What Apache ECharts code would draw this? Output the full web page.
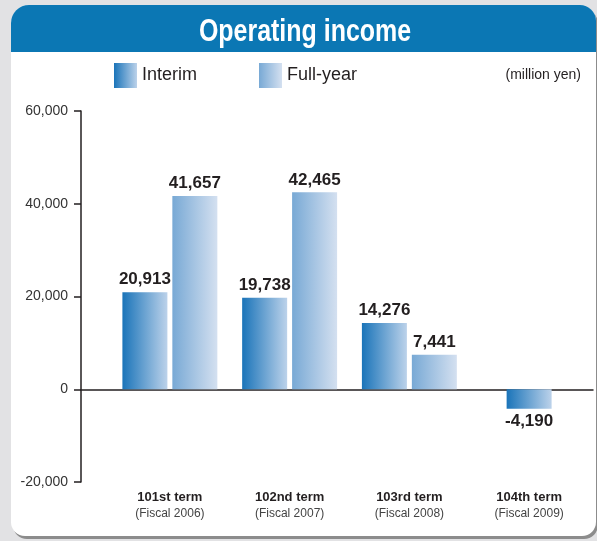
<!DOCTYPE html>
<html>
<head>
<meta charset="utf-8">
<script src="https://cdn.jsdelivr.net/npm/echarts@6/dist/echarts.min.js"></script>
<style>
    body { margin: 0; background: #e2e2e4; }
    #card {
        position: absolute; left: 11px; top: 5px; width: 585px; height: 531px;
        background: #fff; border-radius: 18px 16px 14px 14px;
        box-shadow: 2px 3px 0 #8c8c8c; overflow: hidden;
    }
    #card-head { position: absolute; left: 0; top: 0; right: 0; height: 47px; background: #0b77b4; }
    #chart { position: absolute; left: 0; top: 0; width: 597px; height: 541px; }
</style>
</head>
<body>
<div id="card"><div id="card-head"></div></div>
<div id="chart"></div>
<script>
// chart data
const terms = ['101st term', '102nd term', '103rd term', '104th term'];
const fiscalYears = ['Fiscal 2006', 'Fiscal 2007', 'Fiscal 2008', 'Fiscal 2009'];
const interim = [20913, 19738, 14276, null];
const interimLast = [null, null, null, -4190]; // 104th term only has interim, drawn centred
const fullYear = [41657, 42465, 7441, null];
const yTicks = [-20000, 0, 20000, 40000, 60000];

const sans = "'Liberation Sans', Arial, sans-serif";

function grad(from, to) {
    return new echarts.graphic.LinearGradient(0, 0, 1, 0, [
        { offset: 0, color: from },
        { offset: 1, color: to }
    ]);
}
const interimColor = grad('#1a74b9', '#bcd2ea');
const fullColor = grad('#78a9d5', '#d4e0f0');

function fmt(v) {
    return v.toLocaleString('en-US');
}

let myChart = echarts.init(document.getElementById('chart'));

const valueLabel = {
    show: true,
    position: 'top',
    distance: 4,
    fontFamily: sans,
    fontWeight: 'bold',
    fontSize: 17,
    color: '#231f20',
    formatter: p => fmt(p.value)
};

function withNegLabels(arr) {
    return arr.map(v => (v !== null && v < 0) ? { value: v, label: { position: 'bottom' } } : v);
}

const legendText = { fontFamily: sans, fontSize: 18, color: '#231f20' };

let option = {
    animation: false,
    legend: [
        {
            data: ['Interim'], left: 114, top: 63, padding: 0, icon: 'rect',
            itemWidth: 23, itemHeight: 25, itemGap: 6, textStyle: legendText
        },
        {
            data: ['Full-year'], left: 259, top: 63, padding: 0, icon: 'rect',
            itemWidth: 23, itemHeight: 25, itemGap: 6, textStyle: legendText
        }
    ],
    graphic: [
        {
            // title, squeezed to look like the condensed face of the original
            type: 'text', x: 305, y: 32, scaleX: 0.78,
            style: {
                text: 'Operating income', x: 0, y: 0,
                align: 'center', verticalAlign: 'middle',
                font: 'bold 32px ' + sans, fill: '#fff'
            }
        },
        {
            type: 'text', right: 16, top: 68,
            style: { text: '(million yen)', font: '14px ' + sans, fill: '#231f20' }
        }
    ],
    grid: [
        { left: 81, right: 4, top: 111, bottom: 59 },
        { left: 110, right: 8, top: 111, bottom: 59 }
    ],
    xAxis: [
        {
            // zero line across the card
            type: 'value', gridIndex: 0, min: 0, max: 1,
            axisLine: { show: true, onZero: true, lineStyle: { color: '#231f20', width: 1.5 } },
            axisTick: { show: false }, axisLabel: { show: false }, splitLine: { show: false }
        },
        { type: 'category', gridIndex: 1, data: terms, show: false },
        {
            type: 'category', gridIndex: 1, data: terms, position: 'bottom',
            axisLine: { show: false, onZero: false }, axisTick: { show: false },
            axisLabel: {
                margin: 6,
                formatter: (v, i) => '{t|' + v + '}\n{f|(' + fiscalYears[i] + ')}',
                rich: {
                    t: { fontFamily: sans, fontWeight: 'bold', fontSize: 13, color: '#231f20', lineHeight: 18 },
                    f: { fontFamily: sans, fontSize: 12, color: '#444', lineHeight: 16 }
                }
            }
        }
    ],
    yAxis: [
        {
            type: 'value', gridIndex: 0,
            min: yTicks[0], max: yTicks[yTicks.length - 1], interval: 20000,
            axisLine: { show: true, lineStyle: { color: '#231f20', width: 1.5 } },
            axisTick: { show: true, length: 7, lineStyle: { color: '#231f20', width: 1.5 } },
            axisLabel: { margin: 13, fontFamily: sans, fontSize: 14, color: '#333', formatter: v => fmt(v) },
            splitLine: { show: false }
        },
        {
            type: 'value', gridIndex: 1, show: false,
            min: yTicks[0], max: yTicks[yTicks.length - 1], interval: 20000
        }
    ],
    series: [
        {
            name: 'Interim', type: 'bar', xAxisIndex: 1, yAxisIndex: 1,
            data: withNegLabels(interim), barWidth: 45, barGap: '11%',
            itemStyle: { color: interimColor }, label: valueLabel
        },
        {
            name: 'Full-year', type: 'bar', xAxisIndex: 1, yAxisIndex: 1,
            data: withNegLabels(fullYear), barWidth: 45, barGap: '11%',
            itemStyle: { color: fullColor }, label: valueLabel
        },
        {
            name: 'Interim', type: 'bar', xAxisIndex: 2, yAxisIndex: 1,
            data: withNegLabels(interimLast), barWidth: 45,
            itemStyle: { color: interimColor }, label: valueLabel
        }
    ]
};

myChart.setOption(option);
</script>
</body>
</html>
